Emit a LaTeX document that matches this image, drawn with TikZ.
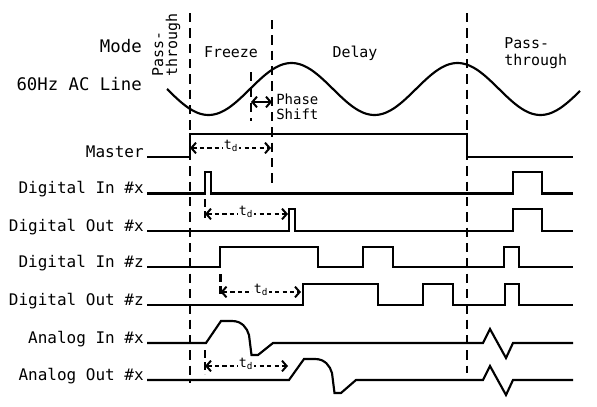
\documentclass[tikz,border=0pt]{standalone}
\usepackage{fontspec}
\setmainfont{DejaVu Sans Mono}
\usetikzlibrary{arrows.meta}
\begin{document}
\begin{tikzpicture}[x=0.75pt,y=-0.75pt,
  sig/.style={line width=1.6pt, line join=miter},
  vdash/.style={line width=1.6pt, dash pattern=on 7pt off 4.5pt},
  barb/.tip={Straight Barb[length=3.5pt,width=8pt]},
  tdarrow/.style={line width=1.5pt, dash pattern=on 3.2pt off 2.4pt, barb-barb},
  tdlabel/.style={fill=white, inner sep=0.8pt, font=\fontsize{10}{11}\selectfont},
  lbl/.style={anchor=base east, inner sep=0pt, font=\fontsize{12}{14}\selectfont},
  toplbl/.style={anchor=base east, inner sep=0pt, font=\fontsize{13}{15}\selectfont},
  mode/.style={inner sep=0pt, font=\fontsize{11.2}{13}\selectfont},
  small/.style={anchor=base west, inner sep=0pt, font=\fontsize{10.5}{12}\selectfont}
]
\useasboundingbox (0,0) rectangle (597,407);

% left labels
\node[toplbl] (lmode) at (142,52) {Mode};
\node[toplbl] (lac) at (142,90) {60Hz AC Line};
\node[lbl] (lmaster) at (144,157) {Master};
\node[lbl] (ldinx) at (144,193.5) {Digital In \#x};
\node[lbl] (ldoutx) at (144,231) {Digital Out \#x};
\node[lbl] (ldinz) at (144,267) {Digital In \#z};
\node[lbl] (ldoutz) at (144,305) {Digital Out \#z};
\node[lbl] (lainx) at (144,343) {Analog In \#x};
\node[lbl] (laoutx) at (144,380) {Analog Out \#x};

% mode labels
\node[mode, rotate=90, anchor=base west] (pt1) at (163,77) {Pass-};
\node[mode, rotate=90, anchor=base west] (pt2) at (177,77) {through};
\node[mode, anchor=base] (freeze) at (231,57) {Freeze};
\node[mode, anchor=base] (delay) at (355,57) {Delay};
\node[mode, anchor=base west] (pt3) at (504,48) {Pass-};
\node[mode, anchor=base west] (pt4) at (504,65) {through};
\node[small] (phase) at (276,104) {Phase};
\node[small] (shift) at (276,119) {Shift};

% vertical dashed lines
\draw[vdash] (190,13) -- (190,383);
\draw[vdash] (272,20) -- (272,186);
\draw[vdash] (251,72) -- (251,121);
\draw[vdash] (467,13) -- (467,373);
\draw[vdash, dash pattern=on 6pt off 3pt] (205,199) -- (205,218);
\draw[vdash, dash pattern=on 6pt off 3pt] (220.5,274) -- (220.5,298);
\draw[vdash, dash pattern=on 6pt off 3pt] (205,350) -- (205,374);

% AC line
\draw[line width=1.6pt] plot[domain=167:580, samples=200, smooth] (\x, {89-26*sin(2.168675*(\x-250))});

% phase shift arrow
\draw[line width=1.5pt, barb-barb] (251,102) -- (272,102);

% signals
\draw[sig] (147,157) -- (190,157) -- (190,134) -- (467,134) -- (467,157) -- (573,157);
\draw[sig] (147,193.5) -- (205,193.5) -- (205,172) -- (211,172) -- (211,193.5) -- (513,193.5)
  -- (513,172) -- (542,172) -- (542,193.5) -- (573,193.5);
\draw[sig] (147,231) -- (289,231) -- (289,209) -- (295,209) -- (295,231) -- (513,231)
  -- (513,209) -- (542,209) -- (542,231) -- (573,231);
\draw[sig] (147,267) -- (220,267) -- (220,247) -- (318,247) -- (318,267) -- (363,267)
  -- (363,247) -- (393,247) -- (393,267) -- (504,267) -- (504,247) -- (519,247)
  -- (519,267) -- (573,267);
\draw[sig] (147,305) -- (303,305) -- (303,284) -- (378,284) -- (378,305) -- (423,305)
  -- (423,284) -- (453,284) -- (453,305) -- (505,305) -- (505,284) -- (519,284)
  -- (519,305) -- (573,305);
\draw[sig] (147,343) -- (206,343) -- (221,321) -- (232,321)
  .. controls (242,321) and (247,328) .. (249,335) -- (251.5,355) -- (258,355)
  -- (273,343) -- (483,343) -- (490,329) -- (506,358) -- (513,343) -- (573,343);
\draw[sig] (147,380) -- (289,380) -- (304,359) -- (315,359)
  .. controls (325,359) and (330,366) .. (332,373) -- (334.5,393) -- (341,393)
  -- (356,380) -- (483,380) -- (490,366) -- (506,395) -- (513,380) -- (573,380);

% t_d arrows
\draw[tdarrow] (190,148) -- (271,148);
\node[tdlabel] (td1) at (231,146) {t\textsubscript{d}};
\draw[tdarrow] (205,214) -- (288,214);
\node[tdlabel] (td2) at (246,212) {t\textsubscript{d}};
\draw[tdarrow] (220.5,292) -- (301,292);
\node[tdlabel] (td3) at (261,290) {t\textsubscript{d}};
\draw[tdarrow] (205,366) -- (288,366);
\node[tdlabel] (td4) at (246,364) {t\textsubscript{d}};
\end{tikzpicture}
\end{document}
